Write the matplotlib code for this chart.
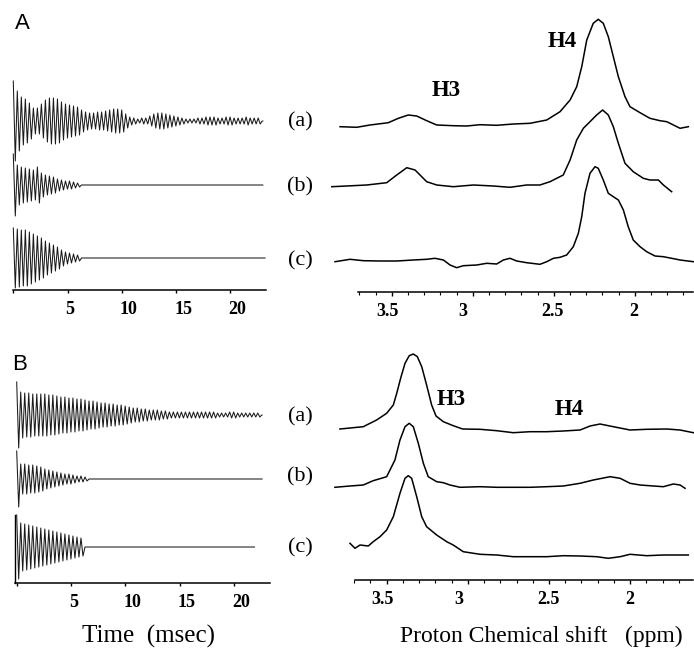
import matplotlib
matplotlib.use('Agg')
import matplotlib.pyplot as plt
import matplotlib.transforms as mtransforms
import numpy as np

plt.rcParams['font.family'] = 'Liberation Serif'

W, H = 694, 657  # output size in px (dpi 100)

# --------------------------------------------------
# FID data: amplitude of each oscillation cycle (px), cycle length in ms
# --------------------------------------------------
PERIOD_MS = 0.37
fid_A_a = [40, 30, 24, 22, 18, 13, 13, 17, 21, 23, 23, 22, 19, 17, 16, 15, 14, 11, 9, 8,
           8, 9, 9, 10, 11, 12, 12, 11, 7, 4, 3, 2, 3, 3, 5, 7, 8, 8, 7, 6,
           5, 4, 3, 2, 2, 2, 3, 3, 4, 4, 4, 3, 3, 4, 4, 3, 3, 3, 4, 3, 3, 3]
fid_A_b = [31, 20, 18, 17, 16, 15, 18, 12, 10, 9, 8, 6, 5, 4, 4, 3, 2]
fid_A_c = [30, 29, 28, 28, 26, 24, 22, 20, 17, 15, 13, 11, 8, 6, 5, 4, 3]
fid_B_a = [33, 23, 22, 22, 21, 21, 21, 21, 20, 20, 19, 18, 18, 17, 17, 16, 16, 15, 14, 14,
           13, 12, 12, 11, 11, 10, 10, 9, 8, 7, 7, 6, 6, 5, 5, 5, 4, 4, 3, 3,
           3, 3, 3, 3, 3, 3, 3, 3, 3, 3, 2, 2, 2, 3, 3, 2, 2, 2, 2, 2, 2]
fid_B_b = [28, 15, 15, 14, 14, 13, 12, 10, 9, 8, 7, 6, 5, 5, 4, 3, 3, 2]
fid_B_c = [32, 24, 23, 22, 21, 20, 19, 18, 17, 16, 15, 14, 13, 12, 11, 10, 9]
fid_end_A = [23.0, 23.0, 23.2]   # ms where each trace stops
fid_end_B = [22.6, 22.6, 21.9]

TIME_TICKS = [0, 5, 10, 15, 20]
TIME_LABELS = ['', '5', '10', '15', '20']

# --------------------------------------------------
# spectra: chemical shift (ppm) and intensity
# --------------------------------------------------
ppm_A_a = [3.819, 3.716, 3.634, 3.521, 3.459, 3.398, 3.346, 3.284, 3.222, 3.120, 3.037, 2.955,
           2.852, 2.749, 2.646, 2.543, 2.461, 2.399, 2.358, 2.327, 2.296, 2.256, 2.225, 2.194,
           2.163, 2.132, 2.101, 2.060, 2.029, 1.967, 1.906, 1.844, 1.802, 1.761, 1.720, 1.669]
int_A_a = [-0.7, -1.3, 1, 3.3, 7.7, 11, 10, 5.3, 1, 0.3, 0, 1.3,
           0.7, 2, 2.7, 6, 14.3, 26, 39.3, 59.3, 86, 102.7, 106.7, 102.7,
           89.3, 69.3, 49.3, 29.3, 19.3, 13.3, 7.7, 5.3, 4.3, 1, -2.3, -0.7]

ppm_A_b = [3.870, 3.778, 3.654, 3.531, 3.469, 3.407, 3.356, 3.284, 3.222, 3.120, 2.996, 2.873,
           2.770, 2.667, 2.585, 2.523, 2.441, 2.399, 2.358, 2.317, 2.276, 2.235, 2.198, 2.163,
           2.132, 2.101, 2.060, 2.009, 1.947, 1.906, 1.854, 1.823, 1.772]
int_A_b = [-0.7, 0, 1, 3.3, 11, 18.3, 16, 4.3, 1, -0.7, 1, 0,
           -1.3, 1, 1, 4.3, 11, 26, 46, 57.7, 64.3, 71, 76, 71,
           59.3, 42.7, 22.7, 14.3, 7.7, 6, 6, 1, -5.7]

ppm_A_c = [3.850, 3.757, 3.675, 3.572, 3.469, 3.367, 3.284, 3.233, 3.181, 3.140, 3.099, 3.058,
           2.975, 2.914, 2.852, 2.811, 2.770, 2.728, 2.667, 2.585, 2.543, 2.502, 2.461, 2.420,
           2.379, 2.348, 2.327, 2.307, 2.276, 2.245, 2.225, 2.194, 2.163, 2.132, 2.101, 2.070,
           2.040, 2.009, 1.967, 1.926, 1.875, 1.823, 1.772, 1.720, 1.638]
int_A_c = [-0.7, 1.7, 0.3, 0, 0, 1, 1.7, 2.7, 1, -4, -6.7, -4.7,
           -4, -2.3, -3, 1, 2.7, 0, -1.7, -3.3, -0.7, 2.7, 3.7, 6,
           14.3, 27.7, 44.3, 67.7, 87.7, 94.3, 92.7, 81, 67.7, 64.3, 61, 51,
           34.3, 21, 14.3, 9.3, 5, 4.3, 2.7, 1, -0.7]

ppm_B_a = [3.788, 3.644, 3.562, 3.500, 3.459, 3.438, 3.414, 3.387, 3.361, 3.336, 3.311, 3.284,
           3.254, 3.223, 3.196, 3.151, 3.090, 3.032, 2.925, 2.822, 2.720, 2.617, 2.514, 2.412,
           2.309, 2.247, 2.186, 2.104, 2.001, 1.898, 1.775, 1.693, 1.611]
int_B_a = [0.5, 2.8, 9.5, 16.2, 24.5, 36.2, 51.2, 66.2, 73.8, 75.5, 72.8, 62.8,
           44.5, 24.5, 13.5, 7.8, 3.8, 0.5, 0.2, -1.2, -3.2, -2.2, -2.2, -1.5,
           -0.5, 3.5, 5.5, 2.8, -0.5, 0.2, 0.5, -0.5, -3.2]

ppm_B_b = [3.819, 3.726, 3.644, 3.583, 3.500, 3.449, 3.418, 3.387, 3.361, 3.336, 3.305, 3.274,
           3.244, 3.192, 3.151, 3.110, 3.048, 2.925, 2.822, 2.720, 2.617, 2.514, 2.412, 2.309,
           2.227, 2.124, 2.062, 2.001, 1.939, 1.857, 1.796, 1.734, 1.693, 1.662]
int_B_b = [-0.3, 1, 2, 6.3, 10.3, 27, 47, 60.3, 63.7, 60.3, 43.7, 23.7,
           10.3, 5.3, 4.3, 2, -0.3, 0.3, -0.3, -0.3, -0.3, 0.3, 1, 3.7,
           7, 10.3, 8.7, 3.7, 2, 1, 0.3, 3, 2, -1.3]

ppm_B_c = [3.726, 3.695, 3.664, 3.613, 3.583, 3.541, 3.500, 3.459, 3.418, 3.387, 3.367, 3.346,
           3.315, 3.284, 3.254, 3.192, 3.130, 3.090, 3.028, 2.925, 2.822, 2.720, 2.617, 2.514,
           2.412, 2.309, 2.206, 2.135, 2.062, 2.001, 1.898, 1.796, 1.642]
int_B_c = [12.7, 7.7, 11, 10, 14.3, 19.3, 26, 39.3, 62.7, 77.7, 80.3, 77.7,
           59.3, 39.3, 29.3, 21, 14.3, 11, 4.3, 1.7, 1, -0.7, -0.7, -0.7,
           0.3, 0, -0.7, -2.3, -0.7, 1.7, 0.3, 1, 1]

PPM_TICKS = [3.5, 3, 2.5, 2]
PPM_LABELS = ['3.5', '3', '2.5', '2']
PPM_LABEL_NUDGE = [-4, -9.5, -1, -0.5]   # px, original labels sit a bit off their ticks

TRACE_LABELS = ['(a)', '(b)', '(c)']


# --------------------------------------------------
# helpers
# --------------------------------------------------
def px_axes(fig, x0, x1, y_top, y_bot):
    return fig.add_axes([x0 / W, 1 - y_bot / H, (x1 - x0) / W, (y_bot - y_top) / H])


def shift(fig, dx_px):
    return mtransforms.ScaledTranslation(dx_px / fig.dpi, 0, fig.dpi_scale_trans)


def fid_path(amps, t_end):
    t, y = [], []
    for k, a in enumerate(amps):
        t.extend([k * PERIOD_MS, (k + 0.5) * PERIOD_MS])
        y.extend([a, -a])
    t.extend([len(amps) * PERIOD_MS, t_end])
    y.extend([0, 0])
    return np.array(t), np.array(y)


def clean(ax):
    for s in ['top', 'right', 'left']:
        ax.spines[s].set_visible(False)
    ax.spines['bottom'].set_linewidth(1.1)
    ax.set_yticks([])
    ax.patch.set_visible(False)


def time_axis(fig, ax, spine_lim):
    clean(ax)
    ax.spines['bottom'].set_bounds(*spine_lim)
    ax.set_xticks(TIME_TICKS, TIME_LABELS)
    ax.tick_params(axis='x', direction='out', length=2.2, width=1, pad=5.5, labelsize=13)
    for lab in ax.get_xticklabels():
        lab.set_fontweight('bold')
        lab.set_ha('left')
        lab.set_transform(lab.get_transform() + shift(fig, -2))


def ppm_axis(fig, ax, spine_lim):
    clean(ax)
    ax.spines['bottom'].set_bounds(*spine_lim)
    ax.set_xticks(PPM_TICKS, PPM_LABELS)
    ax.set_xticks(np.round(np.arange(1.7, 3.75, 0.1), 1), minor=True)
    ax.tick_params(axis='x', which='major', direction='out', length=2.9, width=1, pad=5, labelsize=13)
    ax.tick_params(axis='x', which='minor', direction='out', length=1.8, width=0.8)
    for lab, dx in zip(ax.get_xticklabels(), PPM_LABEL_NUDGE):
        lab.set_fontweight('bold')
        lab.set_transform(lab.get_transform() + shift(fig, dx))


fig = plt.figure(figsize=(W / 100, H / 100), dpi=100)

# --------------------------------------------------
# left: FIDs
# --------------------------------------------------
axA = px_axes(fig, 8, 270, 70, 290)
axA.set_xlim(-0.488, 23.66)
axA.set_ylim(0, 220)
for amps, t_end, off in zip([fid_A_a, fid_A_b, fid_A_c], fid_end_A, [169, 105, 32]):
    t, y = fid_path(amps, t_end)
    axA.plot(t, y + off, color='#1a1a1a', lw=0.75, clip_on=False)
time_axis(fig, axA, (0, 23.3))

axB = px_axes(fig, 8, 272, 360, 583)
axB.set_xlim(-0.80, 23.51)
axB.set_ylim(0, 223)
offs_B = [168, 104, 36]
for amps, t_end, off in zip([fid_B_a, fid_B_b, fid_B_c], fid_end_B, offs_B):
    t, y = fid_path(amps, t_end)
    axB.plot(t, y + off, color='#1a1a1a', lw=0.75, clip_on=False)
time_axis(fig, axB, (-0.157, 23.32))
axB.spines['left'].set_visible(True)
axB.spines['left'].set_linewidth(1.0)
axB.spines['left'].set_position(('data', -0.157))
axB.spines['left'].set_bounds(0, offs_B[2] + fid_B_c[0])

# --------------------------------------------------
# right: spectra
# --------------------------------------------------
axSA = px_axes(fig, 330, 694, 10, 291.7)
axSA.set_xlim(3.881, 1.634)
axSA.set_ylim(0, 281.7)
for p, i, off in zip([ppm_A_a, ppm_A_b, ppm_A_c], [int_A_a, int_A_b, int_A_c], [165.7, 105.7, 30.7]):
    axSA.plot(p, np.array(i) + off, color='black', lw=1.1, clip_on=False)
ppm_axis(fig, axSA, (3.708, 1.64))

axSB = px_axes(fig, 330, 694, 340, 580)
axSB.set_xlim(3.849, 1.607)
axSB.set_ylim(0, 240)
for p, i, off in zip([ppm_B_a, ppm_B_b, ppm_B_c], [int_B_a, int_B_b, int_B_c], [150.5, 93, 24]):
    axSB.plot(p, np.array(i) + off, color='black', lw=1.1, clip_on=False)
ppm_axis(fig, axSB, (3.696, 1.613))

# --------------------------------------------------
# text
# --------------------------------------------------
def ftext(x, y, s, **kw):
    fig.text(x / W, 1 - y / H, s, ha='center', va='center', **kw)


ftext(22, 23.5, 'A', family='Liberation Sans', fontsize=16)
ftext(20, 364.5, 'B', family='Liberation Sans', fontsize=16)

for lab, y in zip(TRACE_LABELS, [122, 187, 261]):
    ftext(300.5, y, lab, fontsize=16)
for lab, y in zip(TRACE_LABELS, [417, 477, 548]):
    ftext(300.5, y, lab, fontsize=16)

ftext(446, 90, 'H3', fontsize=16.5, fontweight='bold')
ftext(562.5, 41.7, 'H4', fontsize=16.5, fontweight='bold')
ftext(451, 399.5, 'H3', fontsize=16.5, fontweight='bold')
ftext(569, 409.5, 'H4', fontsize=16.5, fontweight='bold')

ftext(149, 636, 'Time  (msec)', fontsize=18)
ftext(541.5, 636, 'Proton Chemical shift   (ppm)', fontsize=17)

fig.savefig('out.png', dpi=100)
